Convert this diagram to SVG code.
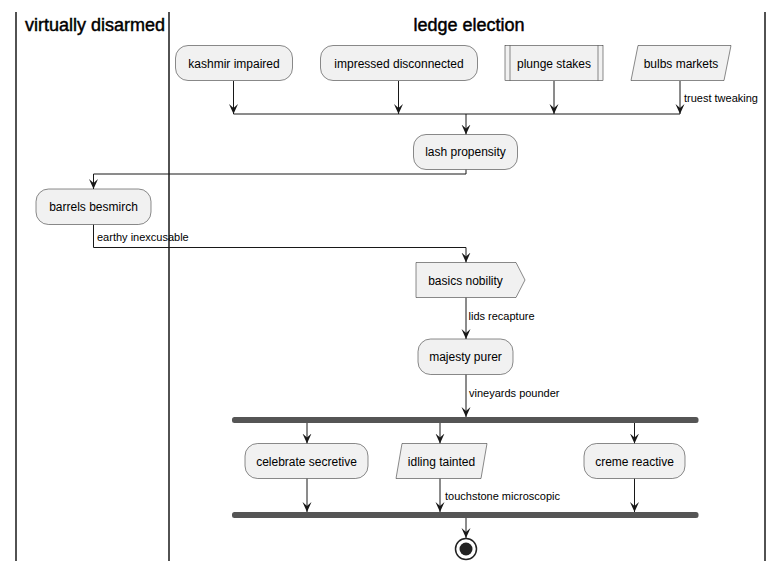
<svg xmlns="http://www.w3.org/2000/svg" width="783" height="571" viewBox="0 0 783 571">
<defs>
<style>
.lane{stroke:#181818;stroke-width:1.5;fill:none}
.title{font-family:"Liberation Sans",Arial,sans-serif;font-size:18px;fill:#000;stroke:#000;stroke-width:0.45;text-anchor:middle}
.node{fill:#F1F1F1;stroke:#181818;stroke-width:0.5}
.nt{font-family:"Liberation Sans",Arial,sans-serif;font-size:12px;fill:#000;text-anchor:middle}
.lbl{font-family:"Liberation Sans",Arial,sans-serif;font-size:11px;fill:#000}
.edge{stroke:#181818;stroke-width:1;fill:none}
.bar{fill:#555555;stroke:none}
</style>
<marker id="ah" viewBox="0 0 10 10" refX="10" refY="5" markerWidth="10" markerHeight="10" markerUnits="userSpaceOnUse" orient="auto">
<polygon points="0,0.5 10,5 0,9.5 4,5" fill="#181818"/>
</marker>
</defs>
<rect width="783" height="571" fill="#FFFFFF"/>
<g id="lanes">
<line class="lane" x1="16" y1="12" x2="16" y2="561"/>
<line class="lane" x1="169" y1="12" x2="169" y2="561"/>
<line class="lane" x1="765" y1="12" x2="765" y2="561"/>
<text class="title" x="95" y="31">virtually disarmed</text>
<text class="title" x="469" y="31">ledge election</text>
</g>
<g id="connectors">
<line class="edge" x1="233.5" y1="81" x2="233.5" y2="114" marker-end="url(#ah)"/>
<line class="edge" x1="398.5" y1="81" x2="398.5" y2="114" marker-end="url(#ah)"/>
<line class="edge" x1="554" y1="81" x2="554" y2="114" marker-end="url(#ah)"/>
<line class="edge" x1="680" y1="81" x2="680" y2="114" marker-end="url(#ah)"/>
<text class="lbl" x="684" y="102">truest tweaking</text>
<line class="edge" x1="233.5" y1="114" x2="680" y2="114"/>
<line class="edge" x1="466" y1="114" x2="466" y2="134.5" marker-end="url(#ah)"/>
<polyline class="edge" points="466,169.5 466,174 93.5,174 93.5,189" marker-end="url(#ah)"/>
<polyline class="edge" points="93.5,224.5 93.5,247.5 466,247.5 466,262.5" marker-end="url(#ah)"/>
<text class="lbl" x="97" y="241">earthy inexcusable</text>
<line class="edge" x1="466" y1="297.5" x2="466" y2="339" marker-end="url(#ah)"/>
<text class="lbl" x="468.5" y="320">lids recapture</text>
<line class="edge" x1="466" y1="374.5" x2="466" y2="417" marker-end="url(#ah)"/>
<text class="lbl" x="469" y="397">vineyards pounder</text>
<line class="edge" x1="307" y1="423" x2="307" y2="443.5" marker-end="url(#ah)"/>
<line class="edge" x1="440" y1="423" x2="440" y2="443.5" marker-end="url(#ah)"/>
<line class="edge" x1="634.5" y1="423" x2="634.5" y2="443.5" marker-end="url(#ah)"/>
<line class="edge" x1="307" y1="478.5" x2="307" y2="512" marker-end="url(#ah)"/>
<line class="edge" x1="440" y1="478.5" x2="440" y2="512" marker-end="url(#ah)"/>
<text class="lbl" x="445" y="500">touchstone microscopic</text>
<line class="edge" x1="634.5" y1="478.5" x2="634.5" y2="512" marker-end="url(#ah)"/>
<line class="edge" x1="466" y1="518" x2="466" y2="538" marker-end="url(#ah)"/>
</g>
<g id="kashmir-impaired">
<rect class="node" x="175.5" y="45.5" width="117" height="35" rx="12.5"/>
<text class="nt" x="234" y="67.5">kashmir impaired</text>
</g>
<g id="impressed-disconnected">
<rect class="node" x="320.5" y="45.5" width="157" height="35" rx="12.5"/>
<text class="nt" x="399" y="67.5">impressed disconnected</text>
</g>
<g id="plunge-stakes">
<rect class="node" x="505" y="45.5" width="98" height="35"/>
<line class="node" x1="510" y1="45.5" x2="510" y2="80.5"/>
<line class="node" x1="598" y1="45.5" x2="598" y2="80.5"/>
<text class="nt" x="554" y="67.5">plunge stakes</text>
</g>
<g id="bulbs-markets">
<polygon class="node" points="638,45.5 731,45.5 724,80.5 631,80.5"/>
<text class="nt" x="681" y="67.5">bulbs markets</text>
</g>
<g id="lash-propensity">
<rect class="node" x="413.5" y="134.5" width="104" height="35" rx="12.5"/>
<text class="nt" x="465.5" y="156">lash propensity</text>
</g>
<g id="barrels-besmirch">
<rect class="node" x="36" y="189" width="115" height="35.5" rx="12.5"/>
<text class="nt" x="93.5" y="211">barrels besmirch</text>
</g>
<g id="basics-nobility">
<polygon class="node" points="416,262.5 516,262.5 525,280 516,297.5 416,297.5"/>
<text class="nt" x="465.5" y="284.5">basics nobility</text>
</g>
<g id="majesty-purer">
<rect class="node" x="418" y="339" width="95" height="35.5" rx="12.5"/>
<text class="nt" x="465.5" y="361">majesty purer</text>
</g>
<g id="fork">
<rect class="bar" x="232" y="417" width="466.5" height="6" rx="2.5"/>
</g>
<g id="celebrate-secretive">
<rect class="node" x="245" y="443.5" width="123" height="35" rx="12.5"/>
<text class="nt" x="306.5" y="465.5">celebrate secretive</text>
</g>
<g id="idling-tainted">
<polygon class="node" points="402,443.5 487,443.5 481,478.5 396,478.5"/>
<text class="nt" x="441.5" y="465.5">idling tainted</text>
</g>
<g id="creme-reactive">
<rect class="node" x="584" y="443.5" width="101" height="35" rx="12.5"/>
<text class="nt" x="634.5" y="465.5">creme reactive</text>
</g>
<g id="join">
<rect class="bar" x="232" y="512" width="466.5" height="6" rx="2.5"/>
</g>
<g id="end">
<circle cx="466" cy="549" r="10.5" fill="none" stroke="#222222" stroke-width="1.5"/>
<circle cx="466" cy="549" r="6.5" fill="#222222"/>
</g>
</svg>
